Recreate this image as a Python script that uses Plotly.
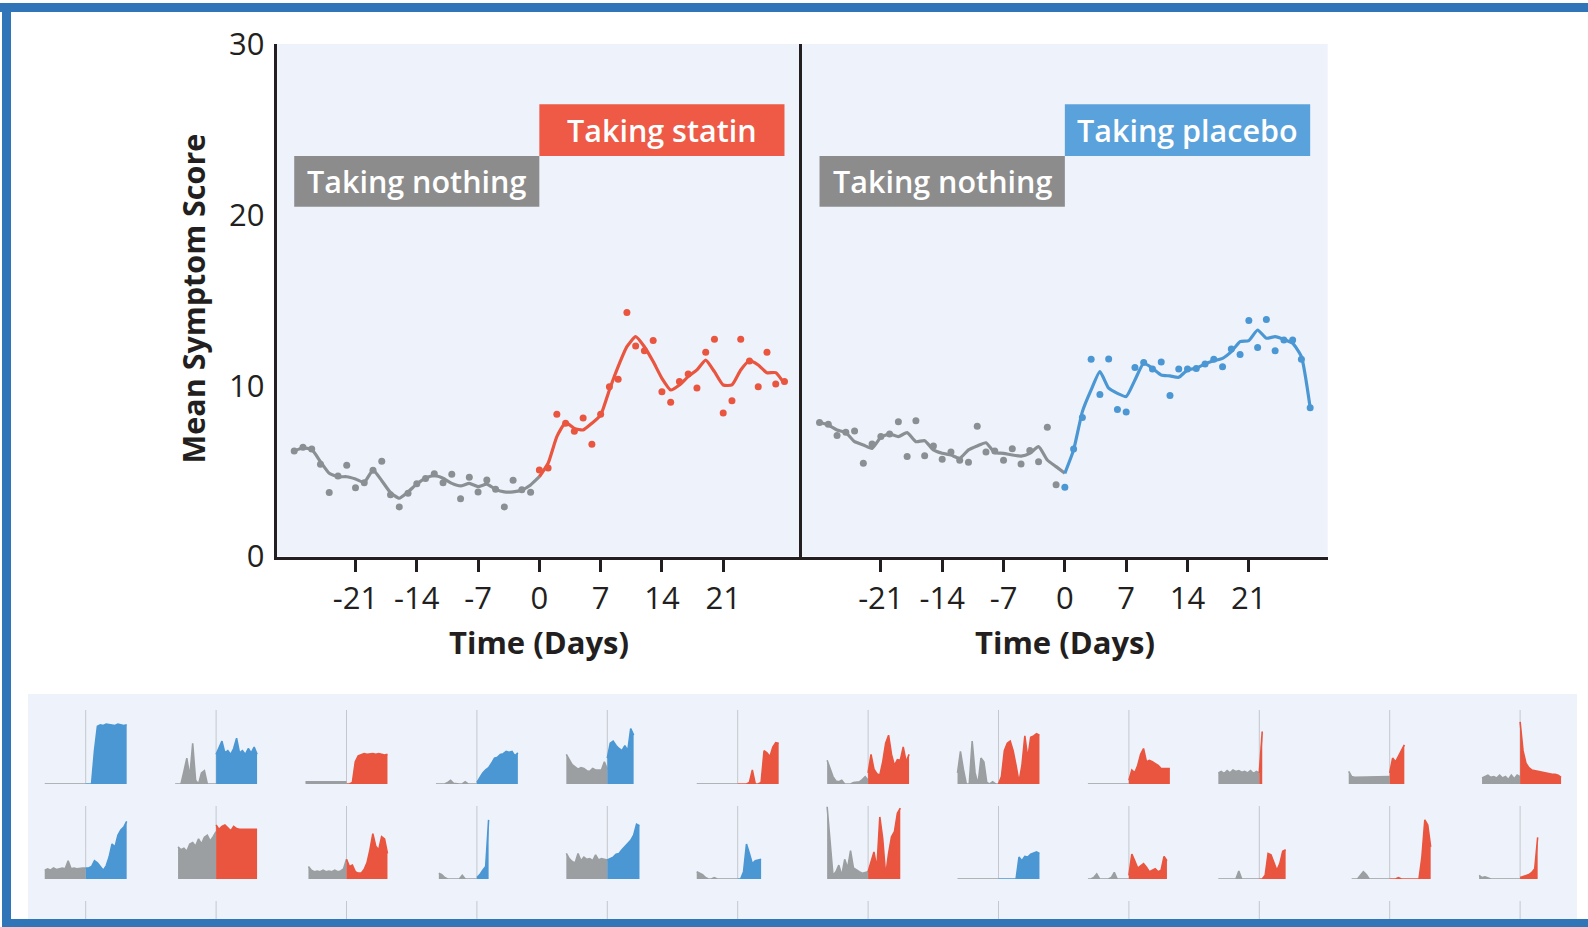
import plotly.graph_objects as go

# ---------------- main panels: daily mean symptom score ----------------
pre_days = list(range(-28, 0))
on_days = list(range(0, 29))
trend_pre_days = list(range(-28, 1))

statin_pre_means = [6.18, 6.39, 6.29, 5.40, 3.74, 4.71, 5.34, 4.03, 4.32, 5.05,
                    5.57, 3.62, 2.90, 3.70, 4.26, 4.56, 4.85, 4.32, 4.81, 3.38,
                    4.64, 3.78, 4.48, 3.93, 2.90, 4.46, 3.91, 3.76]
statin_on_means = [5.06, 5.18, 8.32, 7.80, 7.33, 8.11, 6.57, 8.32, 9.94, 10.37,
                   14.28, 12.32, 12.05, 12.64, 9.65, 9.03, 10.24, 10.69, 9.87, 11.95,
                   12.71, 8.40, 9.12, 12.71, 11.45, 9.94, 11.95, 10.10, 10.24]
statin_pre_trend = [6.18, 6.35, 6.27, 5.55, 4.87, 4.67, 4.67, 4.54, 4.34, 5.06,
                    4.44, 3.74, 3.41, 3.78, 4.24, 4.58, 4.73, 4.58, 4.28, 4.13,
                    4.28, 4.09, 4.24, 3.93, 3.78, 3.78, 3.89, 4.19, 4.67]
statin_on_trend = [4.67, 5.46, 7.02, 7.84, 7.50, 7.41, 7.80, 8.28, 9.75, 11.11,
                   12.28, 12.87, 12.28, 11.41, 10.43, 9.75, 10.04, 10.53, 10.92, 11.50,
                   10.82, 10.04, 10.04, 10.92, 11.46, 11.21, 10.76, 10.76, 10.10]

placebo_pre_means = [7.84, 7.74, 7.09, 7.27, 7.35, 5.46, 6.59, 7.02, 7.17, 7.89,
                     5.85, 7.95, 5.90, 6.47, 5.69, 6.12, 5.63, 5.51, 7.62, 6.12,
                     6.18, 5.63, 6.31, 5.42, 6.20, 5.55, 7.56, 4.20]
placebo_on_means = [4.05, 6.29, 8.13, 11.54, 9.49, 11.56, 8.60, 8.46, 11.07, 11.35,
                    10.98, 11.39, 9.42, 10.98, 10.98, 11.01, 11.27, 11.54, 11.11, 12.15,
                    11.82, 13.81, 12.23, 13.87, 12.05, 12.68, 12.68, 11.54, 8.71]
placebo_pre_trend = [7.84, 7.70, 7.41, 7.25, 6.72, 6.53, 6.33, 6.98, 7.17, 7.02,
                     7.25, 6.72, 6.78, 6.24, 6.04, 5.94, 5.75, 6.24, 6.47, 6.66,
                     6.08, 6.04, 5.94, 5.88, 6.04, 6.43, 5.65, 5.26, 4.87]
placebo_on_trend = [4.87, 6.24, 8.48, 9.75, 10.82, 9.85, 9.55, 9.36, 10.33, 11.31,
                    11.02, 10.63, 10.57, 10.49, 10.92, 11.02, 11.27, 11.46, 11.60, 11.99,
                    12.58, 12.64, 13.26, 12.78, 12.87, 12.71, 12.48, 11.70, 8.71]

day_ticks = [-21, -14, -7, 0, 7, 14, 21]
day_tick_labels = ["-21", "-14", "-7", "0", "7", "14", "21"]
score_ticks = [0, 10, 20, 30]
score_tick_labels = ["0", "10", "20", "30"]

# ---------------- individual participants (score every 2nd day) ----------------
mini_pre_days = list(range(-28, 1, 2))
mini_on_days = list(range(0, 29, 2))

p01_pre = [0, 0, 0, 0, 0, 0, 0, 0, 0, 0, 0, 0, 0, 0, 0]
p01_on = [0, 0, 0, 45, 78, 80, 79, 81, 80, 80, 79, 81, 80, 79, 80]
p02_pre = [0, 0, 0, 17, 35, 10, 55, 5, 0, 15, 18, 0, 0, 0, 0]
p02_on = [40, 48, 58, 42, 45, 40, 48, 62, 42, 45, 40, 48, 42, 50, 40]
p03_pre = [3, 3, 2, 3, 3, 2, 3, 3, 3, 2, 3, 3, 2, 3, 3]
p03_on = [0, 0, 2, 30, 38, 40, 41, 40, 41, 41, 40, 41, 40, 39, 40]
p04_pre = [0, 0, 0, 0, 2, 5, 1, 0, 0, 0, 3, 0, 0, 0, 0]
p04_on = [2, 8, 15, 19, 22, 28, 35, 36, 40, 41, 44, 43, 44, 38, 42]
p05_pre = [40, 32, 26, 23, 20, 22, 21, 18, 17, 21, 19, 19, 19, 30, 20]
p05_on = [35, 55, 58, 52, 48, 45, 52, 45, 75, 66]
p06_pre = [0, 0, 0, 0, 0, 0, 0, 0, 0, 0, 0, 0, 0, 0, 0]
p06_on = [0, 0, 0, 0, 2, 19, 0, 0, 2, 45, 42, 37, 50, 56, 55]
p07_pre = [32, 22, 10, 4, 3, 5, 0, 0, 0, 2, 2, 3, 6, 10, 5]
p07_on = [15, 40, 20, 14, 12, 30, 55, 66, 40, 25, 33, 32, 50, 30, 40]
p08_pre = [15, 44, 20, 0, 0, 58, 15, 0, 35, 30, 2, 0, 3, 0, 0]
p08_on = [0, 10, 45, 55, 58, 45, 25, 3, 25, 65, 35, 63, 65, 68, 66]
p09_pre = [0, 0, 0, 0, 0, 0, 0, 0, 0, 0, 0, 0, 0, 0, 0]
p09_on = [5, 19, 15, 25, 40, 48, 30, 32, 30, 28, 25, 21, 21, 21, 21]
p10_pre = [15, 17, 14, 18, 15, 19, 17, 18, 16, 17, 15, 18, 14, 17, 15]
p10_on = [15, 71]
p11_pre = [17, 10, 9, 9, 9, 10, 9, 9, 9, 10, 9, 9, 10, 9, 10]
p11_on = [15, 35, 30, 38, 45, 53]
p12_pre = [None, 8, 10, 12, 9, 10, 8, 12, 8, 10, 6, 12, 7, 12, 10]
p12_on = [84, 45, 28, 22, 19, 18, 17, 16, 15, 15, 14, 13, 13, 12, 9]

p13_pre = [12, 14, 12, 15, 13, 14, 15, 14, 25, 14, 15, 14, 15, 15, 15]
p13_on = [15, 15, 17, 25, 22, 17, 12, 18, 30, 48, 44, 60, 67, 71, 79]
p14_pre = [None, 44, 40, 42, 38, 48, 50, 45, 55, 48, 57, 60, 52, 58, 65]
p14_on = [74, 68, 72, 74, 70, 66, 72, 69, 68, 68, 69, 68, 68, 68, 68]
p15_pre = [None, 17, 12, 10, 11, 10, 12, 10, 11, 10, 12, 10, 11, 14, 27]
p15_on = [27, 17, 19, 10, 8, 8, 13, 22, 40, 62, 45, 40, 58, 55, 35]
p16_pre = [None, 8, 6, 2, 0, 0, 0, 0, 0, 5, 0, 0, 0, 0, 0]
p16_on = [2, 6, 12, 17, 81]
p17_pre = [35, 28, 24, 22, 35, 25, 30, 27, 28, 25, 33, 26, 28, 27, 26]
p17_on = [26, 28, 30, 34, 35, 40, 44, 48, 53, 60, 75, 73]
p18_pre = [10, 8, 6, 2, 0, 0, 2, 0, 0, 0, 0, 0, 0, 0, 0]
p18_on = [0, 0, 10, 48, 35, 21, 25, 26, 27]
p19_pre = [99, 55, 5, 10, 19, 5, 27, 15, 39, 15, 12, 10, 8, 9, 10]
p19_on = [10, 25, 37, 15, 85, 55, 5, 35, 58, 65, 90, 97]
p20_pre = [0, 0, 0, 0, 0, 0, 0, 0, 0, 0, 0, 0, 0, 0, 0]
p20_on = [0, 0, 0, 0, 0, 0, 0, 30, 25, 31, 30, 34, 36, 37, 35]
p21_pre = [0, 0, 2, 7, 0, 0, 0, 0, 2, 9, 0, 0, 0, 0, 0]
p21_on = [5, 34, 25, 15, 18, 21, 16, 10, 12, 14, 10, 12, 31, 25]
p22_pre = [0, 0, 0, 0, 0, 0, 0, 11, 0, 0, 0, 0, 0, 0, 0]
p22_on = [0, 0, 5, 35, 33, 21, 12, 21, 38, 40]
p23_pre = [None, 0, 0, 0, 5, 10, 6, 0, 0, 0, 0, 0, 0, 0, 0]
p23_on = [0, 0, 0, 2, 0, 0, 0, 0, 0, 0, 0, 30, 81, 74, 44]
p24_pre = [5, 2, 3, 1, 0, 0, 0, 0, 0, 0, 0, 0, 0, 0, 0]
p24_on = [2, 3, 4, 6, 9, 14, 57]

mini_pre = [p01_pre, p02_pre, p03_pre, p04_pre, p05_pre, p06_pre,
            p07_pre, p08_pre, p09_pre, p10_pre, p11_pre, p12_pre,
            p13_pre, p14_pre, p15_pre, p16_pre, p17_pre, p18_pre,
            p19_pre, p20_pre, p21_pre, p22_pre, p23_pre, p24_pre]
mini_on = [p01_on, p02_on, p03_on, p04_on, p05_on, p06_on,
           p07_on, p08_on, p09_on, p10_on, p11_on, p12_on,
           p13_on, p14_on, p15_on, p16_on, p17_on, p18_on,
           p19_on, p20_on, p21_on, p22_on, p23_on, p24_on]
mini_arms = ["placebo", "placebo", "statin", "placebo", "placebo", "statin",
             "statin", "statin", "statin", "statin", "statin", "statin",
             "placebo", "statin", "statin", "placebo", "placebo", "placebo",
             "statin", "placebo", "statin", "statin", "statin", "statin"]

# ---------------- styling ----------------
W, H = 1588, 927
INK = "#231F20"
GREY = "#8A8F94"
RED = "#E9553F"
BLUE = "#4B97D4"
MINI_GREY = "#9C9FA1"
BOX_GREY = "#8C8C8C"
BOX_RED = "#EE5A45"
BOX_BLUE = "#5AA2DB"
PANEL_BG = "#EEF3FB"
FRAME = "#2F75B7"
FONT = "Open Sans"


def fx(px):
    return px / W


def fy(py):
    return 1 - py / H


fig = go.Figure()
layout = dict(
    width=W, height=H,
    margin=dict(l=0, r=0, t=0, b=0, pad=0, autoexpand=False),
    paper_bgcolor="white",
    plot_bgcolor=PANEL_BG,
    showlegend=False,
    font=dict(family=FONT, color=INK),
)
shapes = []
annotations = []

# ---- the two main panels ----
MAIN_Y = [fy(556.5), fy(44)]
panels = [
    dict(n="", dom=[fx(276.7), fx(802)], pre=statin_pre_means, on=statin_on_means,
         pre_trend=statin_pre_trend, on_trend=statin_on_trend,
         color=RED, box=BOX_RED, label="Taking statin", left=True),
    dict(n="2", dom=[fx(802), fx(1327.7)], pre=placebo_pre_means, on=placebo_on_means,
         pre_trend=placebo_pre_trend, on_trend=placebo_on_trend,
         color=BLUE, box=BOX_BLUE, label="Taking placebo", left=False),
]
label_font = dict(size=30.5, color="white", family=FONT, weight=600)
for p in panels:
    xa, ya = "x" + p["n"], "y" + p["n"]
    common = dict(xaxis=xa, yaxis=ya, hoverinfo="skip", showlegend=False)
    fig.add_trace(go.Scatter(x=trend_pre_days, y=p["pre_trend"], mode="lines",
                             line=dict(color=GREY, width=3.2, shape="spline", smoothing=0.5), **common))
    fig.add_trace(go.Scatter(x=on_days, y=p["on_trend"], mode="lines",
                             line=dict(color=p["color"], width=3.2, shape="spline", smoothing=0.5), **common))
    fig.add_trace(go.Scatter(x=pre_days, y=p["pre"], mode="markers",
                             marker=dict(color=GREY, size=7), **common))
    fig.add_trace(go.Scatter(x=on_days, y=p["on"], mode="markers",
                             marker=dict(color=p["color"], size=7), **common))

    layout["xaxis" + p["n"]] = dict(
        domain=p["dom"], range=[-30, 30], anchor=ya, automargin=False,
        tickmode="array", tickvals=day_ticks, ticktext=day_tick_labels,
        ticks="outside", ticklen=12, tickwidth=3, tickcolor=INK,
        ticklabelstandoff=0,
        showline=True, linewidth=3, linecolor=INK,
        showgrid=False, zeroline=False,
        tickfont=dict(size=31, color=INK, family=FONT),
    )
    layout["yaxis" + p["n"]] = dict(
        domain=MAIN_Y, range=[0, 30], anchor=xa, automargin=False,
        tickmode="array", tickvals=score_ticks, ticktext=score_tick_labels,
        showticklabels=p["left"], ticks="", ticklabelstandoff=3,
        showline=True, linewidth=3, linecolor=INK,
        showgrid=False, zeroline=False,
        tickfont=dict(size=31, color=INK, family=FONT),
    )

    # phase labels
    shapes.append(dict(type="rect", xref=xa, yref=ya, x0=-28, x1=0, y0=20.48, y1=23.44,
                       fillcolor=BOX_GREY, line=dict(width=0), layer="above"))
    shapes.append(dict(type="rect", xref=xa, yref=ya, x0=0, x1=28, y0=23.44, y1=26.47,
                       fillcolor=p["box"], line=dict(width=0), layer="above"))
    annotations.append(dict(xref=xa, yref=ya, x=-14, y=21.96, text="Taking nothing",
                            xanchor="center", yanchor="middle", showarrow=False,
                            font=label_font))
    annotations.append(dict(xref=xa, yref=ya, x=14, y=24.95, text=p["label"],
                            xanchor="center", yanchor="middle", showarrow=False,
                            font=label_font))
    annotations.append(dict(xref=xa, yref="paper", x=0, y=fy(642), text="<b>Time (Days)</b>",
                            xanchor="center", yanchor="middle", showarrow=False,
                            font=dict(size=31, color=INK, family=FONT)))

annotations.append(dict(xref="paper", yref="paper", x=fx(192.5), y=fy(299),
                        xanchor="center", yanchor="middle",
                        text="<b>Mean Symptom Score</b>", textangle=-90, showarrow=False,
                        font=dict(size=30.5, color=INK, family=FONT)))

# ---- small multiples ----
shapes.append(dict(type="rect", xref="paper", yref="paper", x0=fx(28), x1=fx(1577),
                   y0=fy(919), y1=fy(694), fillcolor=PANEL_BG, line=dict(width=0), layer="below"))

COL0, COL_STEP, HALF = 85.7, 130.4, 43.9
ROWS = [(710, 784), (806, 879)]
arm_color = {"statin": RED, "placebo": BLUE}
hidden = dict(visible=False, automargin=False, showgrid=False, zeroline=False)

axis_no = 3
for k, (pre, on, arm) in enumerate(zip(mini_pre, mini_on, mini_arms)):
    row, col = divmod(k, 12)
    cx = COL0 + COL_STEP * col
    xa, ya = f"x{axis_no}", f"y{axis_no}"
    for days, vals, colr in ((mini_pre_days, pre, MINI_GREY), (mini_on_days, on, arm_color[arm])):
        pts = [(d, v) for d, v in zip(days, vals) if v is not None]
        fig.add_trace(go.Scatter(
            x=[d for d, _ in pts], y=[v for _, v in pts], mode="lines",
            line=dict(color=colr, width=1.6), fill="tozeroy", fillcolor=colr,
            xaxis=xa, yaxis=ya, hoverinfo="skip", showlegend=False))
    top, base = ROWS[row]
    layout[f"xaxis{axis_no}"] = dict(domain=[fx(cx - HALF), fx(cx + HALF)], range=[-30, 30],
                                     anchor=ya, **hidden)
    layout[f"yaxis{axis_no}"] = dict(domain=[fy(base), fy(top)], range=[0, 100],
                                     anchor=xa, **hidden)
    shapes.append(dict(type="line", xref=xa, yref=ya, x0=0, x1=0, y0=0, y1=100,
                       line=dict(color="#C4C7CC", width=1), layer="below"))
    axis_no += 1

# third row of participants, cut off by the frame
for col in range(12):
    cx = COL0 + COL_STEP * col
    xa, ya = f"x{axis_no}", f"y{axis_no}"
    fig.add_trace(go.Scatter(x=[], y=[], xaxis=xa, yaxis=ya, showlegend=False))
    layout[f"xaxis{axis_no}"] = dict(domain=[fx(cx - HALF), fx(cx + HALF)], range=[-30, 30],
                                     anchor=ya, **hidden)
    layout[f"yaxis{axis_no}"] = dict(domain=[0, fy(901)], range=[64.9, 100],
                                     anchor=xa, **hidden)
    shapes.append(dict(type="line", xref=xa, yref=ya, x0=0, x1=0, y0=0, y1=100,
                       line=dict(color="#C4C7CC", width=1), layer="below"))
    axis_no += 1

# ---- outer frame ----
shapes.append(dict(type="rect", xref="paper", yref="paper", x0=0, x1=1, y0=fy(12), y1=fy(3),
                   fillcolor=FRAME, line=dict(width=0), layer="above"))
shapes.append(dict(type="rect", xref="paper", yref="paper", x0=fx(2), x1=fx(11), y0=0, y1=fy(3),
                   fillcolor=FRAME, line=dict(width=0), layer="above"))
shapes.append(dict(type="rect", xref="paper", yref="paper", x0=fx(2), x1=1, y0=0, y1=fy(919),
                   fillcolor=FRAME, line=dict(width=0), layer="above"))

layout["shapes"] = shapes
layout["annotations"] = annotations
fig.update_layout(**layout)

fig.write_html("out.html")
